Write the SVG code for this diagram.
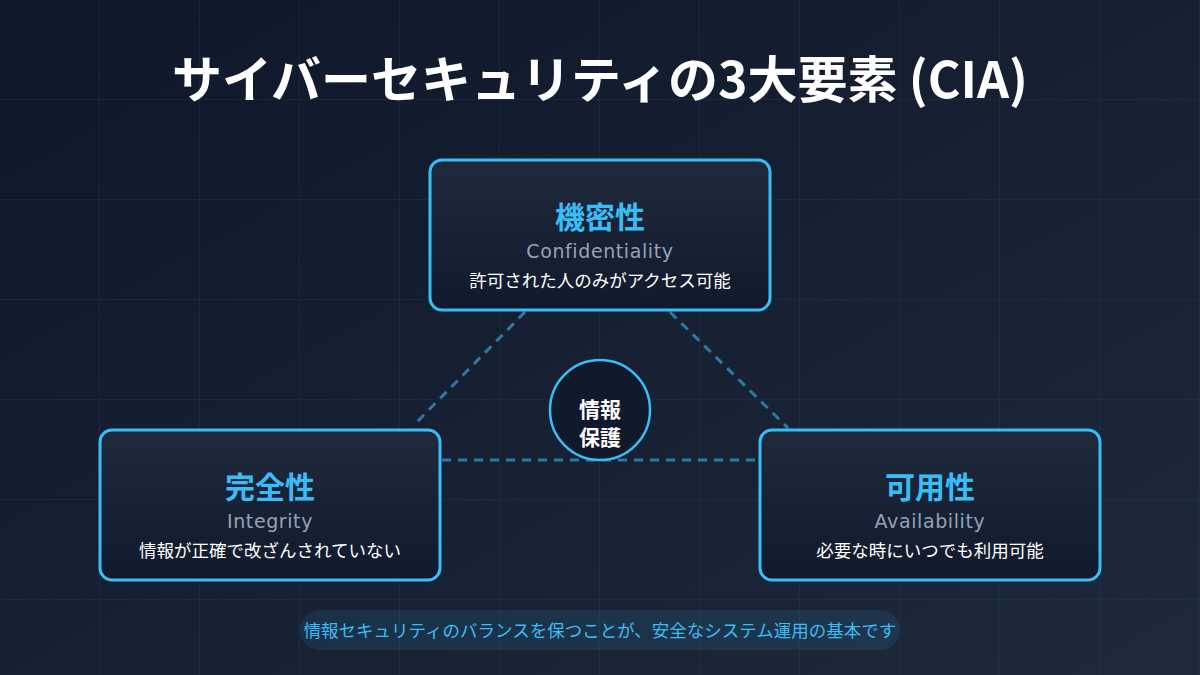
<svg xmlns="http://www.w3.org/2000/svg" width="1200" height="675" viewBox="0 0 1200 675">
<defs>
<linearGradient id="bg" x1="0" y1="0" x2="1" y2="1"><stop offset="0" stop-color="#0f172a"/><stop offset="1" stop-color="#1e293b"/></linearGradient>
<linearGradient id="box" x1="0" y1="0" x2="0" y2="1"><stop offset="0" stop-color="#1f2a3c"/><stop offset="1" stop-color="#111a2c"/></linearGradient>
<pattern id="grid" width="100" height="100" patternUnits="userSpaceOnUse"><path d="M100 0V100M0 100H100" fill="none" stroke="#1e3a5f" stroke-opacity="0.5" stroke-width="1.5"/></pattern>
<style>
text{font-family:"Noto Sans CJK JP","Noto Sans",sans-serif;text-anchor:middle}
.box{fill:url(#box);stroke:#38bdf8;stroke-width:3}
.h{fill:#38bdf8;font-size:30px;font-weight:700}
.en{fill:#94a3b8;font-size:19px;letter-spacing:0.6px;font-family:"DejaVu Sans","Noto Sans",sans-serif}
.d{fill:#ffffff;font-size:17.5px}
.c{fill:none;stroke:#2b7aa6;stroke-width:3;stroke-dasharray:9 7}
</style>
</defs>
<rect width="1200" height="675" fill="url(#bg)"/>
<rect width="1200" height="675" fill="url(#grid)"/>
<text x="600" y="98" fill="#fff" font-size="50" font-weight="700">サイバーセキュリティの3大要素 (CIA)</text>
<g id="connectors">
<line class="c" x1="525" y1="312" x2="413" y2="426"/>
<line class="c" x1="670" y1="312" x2="788" y2="428"/>
<line class="c" x1="442" y1="460" x2="758" y2="460"/>
</g>
<g id="center">
<circle cx="600" cy="410" r="50" fill="#111a2c" stroke="#38bdf8" stroke-width="2.5"/>
<text x="600" y="417" fill="#fff" font-size="21" font-weight="700">情報</text>
<text x="600" y="445" fill="#fff" font-size="21" font-weight="700">保護</text>
</g>
<g id="confidentiality">
<rect class="box" x="430" y="160" width="340" height="150" rx="12"/>
<text class="h" x="600" y="228">機密性</text>
<text class="en" x="600" y="258">Confidentiality</text>
<text class="d" x="600" y="287">許可された人のみがアクセス可能</text>
</g>
<g id="integrity">
<rect class="box" x="100" y="430" width="340" height="150" rx="12"/>
<text class="h" x="270" y="498">完全性</text>
<text class="en" x="270" y="528">Integrity</text>
<text class="d" x="270" y="557">情報が正確で改ざんされていない</text>
</g>
<g id="availability">
<rect class="box" x="760" y="430" width="340" height="150" rx="12"/>
<text class="h" x="930" y="498">可用性</text>
<text class="en" x="930" y="528">Availability</text>
<text class="d" x="930" y="557">必要な時にいつでも利用可能</text>
</g>
<g id="footer">
<rect x="300" y="610" width="600" height="40" rx="20" fill="#38bdf8" fill-opacity="0.1"/>
<text x="600" y="637" fill="#38bdf8" font-size="17.5">情報セキュリティのバランスを保つことが、安全なシステム運用の基本です</text>
</g>
</svg>
